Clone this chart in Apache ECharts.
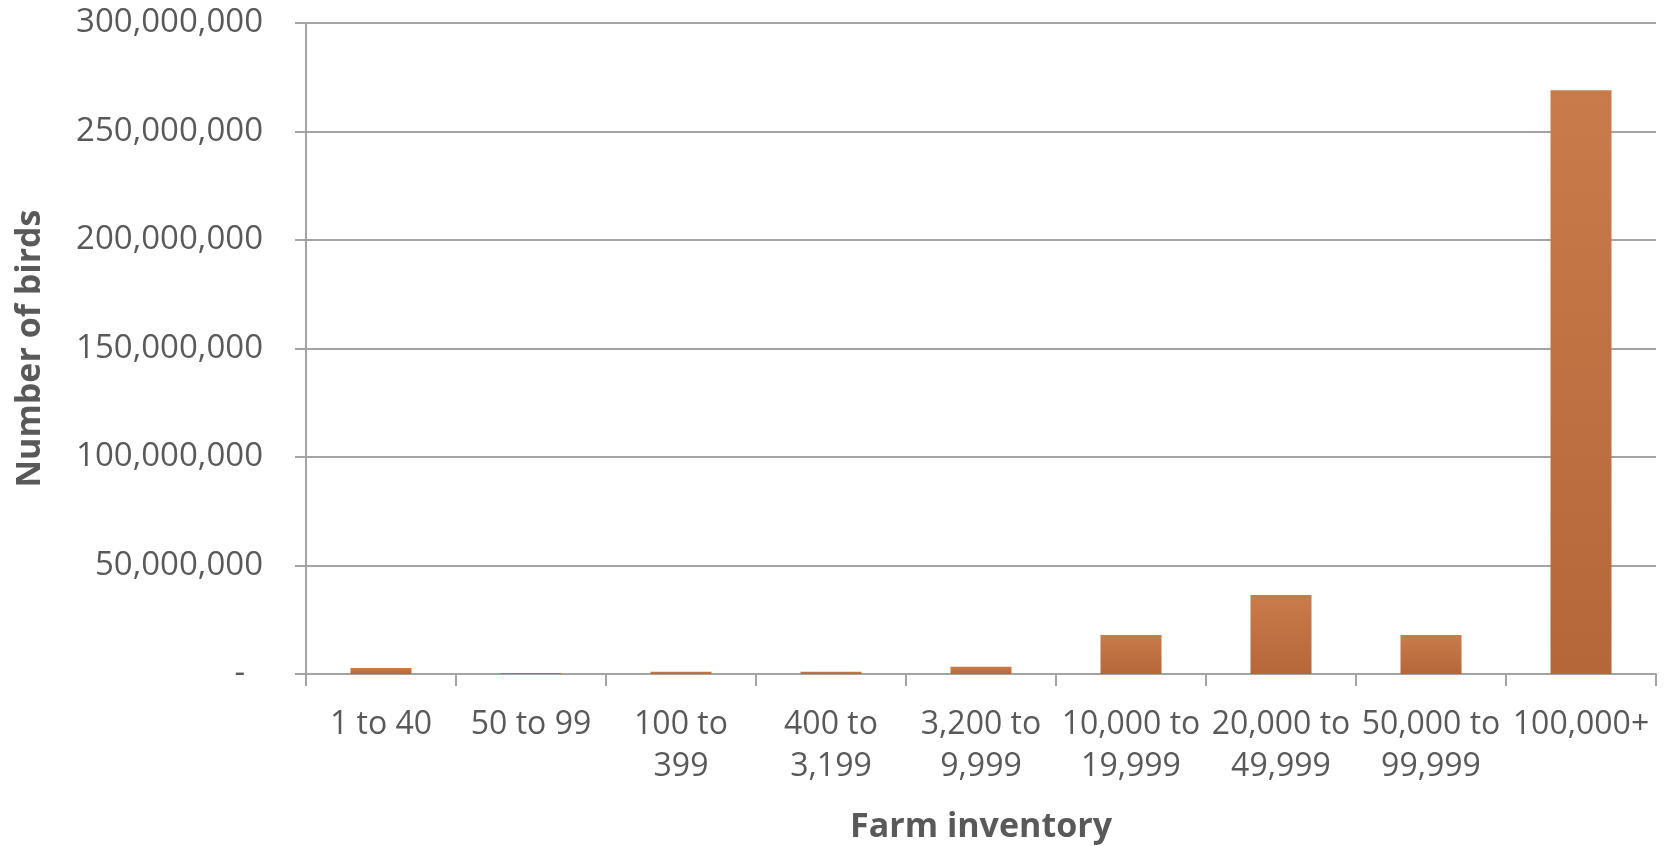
<!DOCTYPE html>
<html>
<head>
<meta charset="utf-8">
<title>Number of birds by farm inventory</title>
<script src="https://cdn.jsdelivr.net/npm/echarts@6/dist/echarts.min.js"></script>
<style>
  html, body { margin: 0; padding: 0; background: #ffffff; }
  #chart { width: 1665px; height: 846px; }
</style>
</head>
<body>
<div id="chart"></div>
<script>
// Farm inventory size classes (x axis)
const categories = [
  '1 to 40', '50 to 99', '100 to\n399', '400 to\n3,199', '3,200 to\n9,999',
  '10,000 to\n19,999', '20,000 to\n49,999', '50,000 to\n99,999', '100,000+'
];
// Number of birds held in each size class
const birds = [2800000, 500000, 1000000, 1000000, 3300000, 18000000, 36400000, 18000000, 269000000];

// Value axis range
const yMin = 0;
const yMax = 300000000;
const yStep = 50000000;

const FONT = '"Open Sans", "Noto Sans", sans-serif';
const TEXT = '#595959';
const LINE = '#a3a3a3';

function fmt(v) {
  if (v === 0) return '{dash|-}';
  return v.toLocaleString('en-US');
}

const chart = echarts.init(document.getElementById('chart'), null, { renderer: 'canvas' });
chart.setOption({
  animation: false,
  grid: { left: 306, right: 9, top: 23, bottom: 172, containLabel: false, outerBoundsMode: 'none' },
  xAxis: {
    type: 'category',
    data: categories,
    name: 'Farm inventory',
    nameLocation: 'middle',
    nameGap: 136,
    nameTextStyle: { fontFamily: FONT, fontSize: 34, fontWeight: 'bold', color: TEXT },
    axisLine: { show: true, lineStyle: { color: LINE, width: 2 } },
    axisTick: { show: true, length: 12, alignWithLabel: false, lineStyle: { color: LINE, width: 2 } },
    axisLabel: {
      interval: 0, margin: 30, fontFamily: FONT, fontSize: 32, color: TEXT, lineHeight: 42
    },
    splitLine: { show: false }
  },
  yAxis: {
    type: 'value',
    min: yMin,
    max: yMax,
    interval: yStep,
    name: 'Number of birds',
    nameLocation: 'middle',
    nameGap: 259,
    nameTextStyle: { fontFamily: FONT, fontSize: 34, fontWeight: 'bold', color: TEXT },
    axisLine: { show: true, lineStyle: { color: LINE, width: 2 } },
    axisTick: { show: true, length: 11, lineStyle: { color: LINE, width: 2 } },
    axisLabel: {
      margin: 43, fontFamily: FONT, fontSize: 33, color: TEXT,
      formatter: fmt,
      rich: { dash: { fontFamily: FONT, fontSize: 33, color: TEXT, padding: [0, 18, 0, 0] } }
    },
    splitLine: { show: true, lineStyle: { color: LINE, width: 2 } }
  },
  series: [{
    type: 'bar',
    data: birds,
    barWidth: 61,
    itemStyle: {
      color: new echarts.graphic.LinearGradient(0, 0, 0, 1, [
        { offset: 0, color: '#c97b4b' },
        { offset: 1, color: '#b5673a' }
      ])
    }
  }]
});
</script>
</body>
</html>
